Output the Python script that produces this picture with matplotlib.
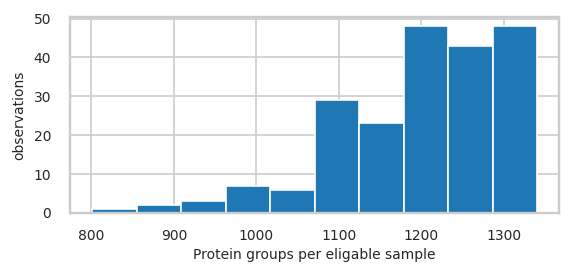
import numpy as np
import matplotlib
matplotlib.use('Agg')
import matplotlib.pyplot as plt
import seaborn as sns

# histogram counts
bin_edges = np.linspace(801, 1340, 11)
counts = [1, 2, 3, 7, 6, 29, 23, 48, 43, 48]
bin_centers = (bin_edges[:-1] + bin_edges[1:]) / 2

sns.set_style('whitegrid')
plt.rcParams['font.family'] = ['DejaVu Sans']
plt.rcParams['font.size'] = 10
plt.rcParams['axes.linewidth'] = 1.7
plt.rcParams['grid.linewidth'] = 1.2

fig, ax = plt.subplots(figsize=(5.73, 2.79), dpi=100)
ax.hist(bin_centers, bins=bin_edges, weights=counts, color='#1f77b4',
        edgecolor='white', linewidth=1.2)
ax.set_xlabel('Protein groups per eligable sample', fontsize=10, color='#262626', labelpad=4)
ax.set_ylabel('observations', fontsize=10, color='#262626', labelpad=5)
ax.set_yticks([0, 10, 20, 30, 40, 50])
ax.tick_params(labelsize=10, colors='#262626')
ax.tick_params(axis='x', pad=8)
ax.tick_params(axis='y', pad=10)
fig.subplots_adjust(left=0.122, right=0.976, bottom=0.237, top=0.939)
fig.savefig('out.png', dpi=100)
